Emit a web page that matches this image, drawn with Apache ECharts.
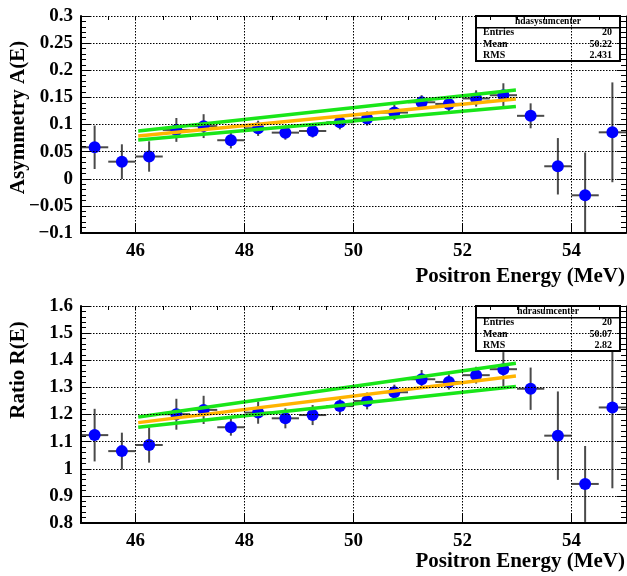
<!DOCTYPE html>
<html>
<head>
<meta charset="utf-8">
<script src="https://cdn.jsdelivr.net/npm/echarts@6/dist/echarts.min.js"></script>
<style>
html,body{margin:0;padding:0;background:#fff;}
#chart{width:627px;height:576px;}
</style>
</head>
<body>
<div id="chart"></div>
<script>
// ---- data ----
const energy = [45.25, 45.75, 46.25, 46.75, 47.25, 47.75, 48.25, 48.75, 49.25, 49.75,
                50.25, 50.75, 51.25, 51.75, 52.25, 52.75, 53.25, 53.75, 54.25, 54.75];
const binHalfWidth = 0.25;

const asymValues = [0.058, 0.0315, 0.041, 0.090, 0.097, 0.071, 0.093, 0.085, 0.088, 0.104,
                    0.111, 0.122, 0.141, 0.138, 0.148, 0.154, 0.116, 0.023, -0.0305, 0.0856];
const asymErrors = [0.040, 0.032, 0.028, 0.022, 0.022, 0.015, 0.014, 0.013, 0.012, 0.013,
                    0.013, 0.014, 0.013, 0.014, 0.015, 0.022, 0.023, 0.052, 0.079, 0.092];

const ratioValues = [1.124, 1.065, 1.0875, 1.201, 1.217, 1.153, 1.207, 1.186, 1.198, 1.231,
                     1.250, 1.282, 1.330, 1.320, 1.345, 1.367, 1.295, 1.122, 0.944, 1.226];
const ratioErrors = [0.097, 0.068, 0.065, 0.057, 0.052, 0.031, 0.041, 0.037, 0.037, 0.033,
                     0.031, 0.028, 0.034, 0.028, 0.031, 0.063, 0.078, 0.163, 0.140, 0.298];

// fit line end points (x range and values at the ends)
const fitRange = [46.05, 52.98];
const asymFit      = [0.0788, 0.147];
const asymFitUpper = [0.088, 0.1636];
const asymFitLower = [0.0714, 0.133];
const ratioFit      = [1.170, 1.342];
const ratioFitUpper = [1.191, 1.389];
const ratioFitLower = [1.153, 1.303];

const xTickLabels = [46, 48, 50, 52, 54];
const asymAxis = {min: -0.1, max: 0.3, step: 0.05};
const ratioAxis = {min: 0.8, max: 1.6, step: 0.1};

const asymStats = {name: 'hdasysumcenter', entries: '20', mean: '50.22', rms: '2.431'};
const ratioStats = {name: 'hdrasumcenter', entries: '20', mean: '50.07', rms: '2.82'};

// ---- styling ----
const FONT = "'Liberation Serif', 'Times New Roman', serif";
const GREEN = '#19e619';
const ORANGE = '#ffb400';
const ERRC = '#4a4a4a';
const DOT = [1.5, 1.5];

const chart = echarts.init(document.getElementById('chart'), null, {renderer: 'canvas'});

function fmt(v) {
  let s = String(Math.round(v * 1000) / 1000);
  return s.replace('-', '\u2212');
}

function errRender(params, api) {
  const x = api.value(0), y = api.value(1), ey = api.value(2), ex = api.value(3);
  const top = api.coord([x, y + ey]);
  const bot = api.coord([x, y - ey]);
  const l = api.coord([x - ex, y]);
  const r = api.coord([x + ex, y]);
  return {
    type: 'group',
    children: [
      {type: 'line', shape: {x1: top[0], y1: top[1], x2: bot[0], y2: bot[1]},
       style: {stroke: ERRC, lineWidth: 2}},
      {type: 'line', shape: {x1: l[0], y1: l[1], x2: r[0], y2: r[1]},
       style: {stroke: ERRC, lineWidth: 2}}
    ]
  };
}

function xAxes(gi) {
  return [
    {
      gridIndex: gi, type: 'value', min: 45, max: 55, interval: 1, zlevel: 2,
      axisLine: {show: true, onZero: false, lineStyle: {color: '#000', width: 2}},
      axisTick: {show: true, inside: true, length: 9, customValues: xTickLabels,
                 lineStyle: {color: '#000', width: 1}},
      axisLabel: {show: true, customValues: xTickLabels, margin: 9,
                  fontFamily: FONT, fontWeight: 'bold', fontSize: 19, color: '#000'},
      splitLine: {show: true, lineStyle: {color: '#000', type: DOT, width: 1}}
    },
    {
      gridIndex: gi, type: 'value', min: 45, max: 55, interval: 0.5, zlevel: 2,
      axisLine: {show: false, onZero: false},
      axisTick: {show: true, inside: true, length: 4, lineStyle: {color: '#000', width: 1}},
      axisLabel: {show: false},
      splitLine: {show: false}
    }
  ];
}

function yAxes(gi, ax) {
  return [
    {
      gridIndex: gi, type: 'value', position: 'left', min: ax.min, max: ax.max, interval: ax.step, zlevel: 2,
      axisLine: {show: true, onZero: false, lineStyle: {color: '#000', width: 2}},
      axisTick: {show: true, inside: true, length: 9, lineStyle: {color: '#000', width: 1}},
      minorTick: {show: true, splitNumber: 5, length: 5, lineStyle: {color: '#000', width: 1}},
      axisLabel: {show: true, margin: 8, formatter: fmt,
                  fontFamily: FONT, fontWeight: 'bold', fontSize: 19, color: '#000'},
      splitLine: {show: true, lineStyle: {color: '#000', type: DOT, width: 1}}
    },
    {
      gridIndex: gi, type: 'value', position: 'right', min: ax.min, max: ax.max, interval: ax.step, zlevel: 2,
      axisLine: {show: true, onZero: false, lineStyle: {color: '#000', width: 1}},
      axisTick: {show: true, inside: true, length: 9, lineStyle: {color: '#000', width: 1}},
      minorTick: {show: true, splitNumber: 5, length: 5, lineStyle: {color: '#000', width: 1}},
      axisLabel: {show: false},
      splitLine: {show: false}
    }
  ];
}

function panelSeries(xi, yi, vals, errs, fit, up, lo) {
  const errData = energy.map((e, i) => [e, vals[i], errs[i], binHalfWidth]);
  const pts = energy.map((e, i) => [e, vals[i]]);
  const line = (arr, color, z) => ({
    type: 'line', xAxisIndex: xi, yAxisIndex: yi,
    data: [[fitRange[0], arr[0]], [fitRange[1], arr[1]]],
    showSymbol: false, symbol: 'none', z: z, silent: true,
    lineStyle: {color: color, width: 3.5}
  });
  return [
    {type: 'custom', xAxisIndex: xi, yAxisIndex: yi, data: errData, renderItem: errRender,
     clip: true, z: 2, silent: true},
    {type: 'scatter', xAxisIndex: xi, yAxisIndex: yi, data: pts, symbol: 'circle',
     symbolSize: 12, itemStyle: {color: '#0000ff', opacity: 1}, z: 3, silent: true},
    line(fit, ORANGE, 4),
    line(up, GREEN, 5),
    line(lo, GREEN, 5)
  ];
}

function statsBox(x, y, s) {
  const w = 144, h = 45, row = 11.5, head = 11.7;
  const txt = (t, tx, ty, align, size) => ({
    type: 'text', x: x + tx, y: y + ty, silent: true, zlevel: 1, z: 12,
    style: {text: t, fontFamily: FONT, fontWeight: 'bold', fontSize: size, fill: '#000',
            align: align, verticalAlign: 'middle'}
  });
  return [
    {type: 'rect', zlevel: 1, z: 10, silent: true, shape: {x: x, y: y, width: w, height: h},
     style: {fill: '#fff', stroke: '#000', lineWidth: 2}},
    {type: 'line', zlevel: 1, z: 11, silent: true, shape: {x1: x, y1: y + head, x2: x + w, y2: y + head},
     style: {stroke: '#000', lineWidth: 1.5}},
    txt(s.name, w / 2, 5.8, 'center', 9.5),
    txt('Entries', 7, head + 5, 'left', 10),
    txt(s.entries, w - 8, head + 5, 'right', 10),
    txt('Mean', 7, head + 5 + row, 'left', 10),
    txt(s.mean, w - 8, head + 5 + row, 'right', 10),
    txt('RMS', 7, head + 5 + 2 * row, 'left', 10),
    txt(s.rms, w - 8, head + 5 + 2 * row, 'right', 10)
  ];
}

function title(t, x, y, rot, align) {
  return {
    type: 'text', x: x, y: y, rotation: rot, silent: true, zlevel: 1, z: 100,
    style: {text: t, fontFamily: FONT, fontWeight: 'bold', fontSize: 21, fill: '#000',
            align: align, verticalAlign: 'middle'}
  };
}

const option = {
  animation: false,
  backgroundColor: '#fff',
  grid: [
    {left: 81, top: 16, width: 545, height: 217},
    {left: 81, top: 306, width: 545, height: 217}
  ],
  xAxis: [...xAxes(0), ...xAxes(1)],
  yAxis: [...yAxes(0, asymAxis), ...yAxes(1, ratioAxis)],
  series: [
    ...panelSeries(0, 0, asymValues, asymErrors, asymFit, asymFitUpper, asymFitLower),
    ...panelSeries(2, 2, ratioValues, ratioErrors, ratioFit, ratioFitUpper, ratioFitLower)
  ],
  graphic: [
    ...statsBox(476, 16, asymStats),
    ...statsBox(476, 306, ratioStats),
    title('Asymmetry A(E)', 19, 117.5, Math.PI / 2, 'center'),
    title('Ratio R(E)', 19, 370, Math.PI / 2, 'center'),
    title('Positron Energy (MeV)', 625, 277, 0, 'right'),
    title('Positron Energy (MeV)', 625, 561.5, 0, 'right')
  ]
};
chart.setOption(option);
</script>
</body>
</html>
